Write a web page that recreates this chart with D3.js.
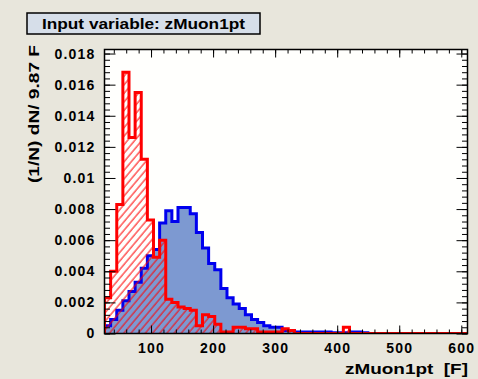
<!DOCTYPE html>
<html>
<head>
<meta charset="utf-8">
<script src="https://cdn.jsdelivr.net/npm/d3@7"></script>
<style>
  html, body { margin: 0; padding: 0; background: #e8e6dc; }
  svg { display: block; }
  text { font-family: "Liberation Sans", Arial, Helvetica, sans-serif; font-weight: bold; }
</style>
</head>
<body>
<svg id="chart" width="478" height="379"></svg>
<script>
// ---- data ----
const titleText = "Input variable: zMuon1pt";
const xTitle = "zMuon1pt  [F]";
const yTitle = "(1/N) dN/ 9.87 F";
const binStart = 25;
const binWidth = 9.87;
const xDomain = [25, 610];
const yDomain = [0, 0.01826];
const xMajorTicks = [100, 200, 300, 400, 500, 600];
const yMajorTicks = [0, 0.002, 0.004, 0.006, 0.008, 0.01, 0.012, 0.014, 0.016, 0.018];
const signalValues = [
  0.0005, 0.0009, 0.0015, 0.0021, 0.0027, 0.0033, 0.0042, 0.0050, 0.0054, 0.0071,
  0.0079, 0.0072, 0.0081, 0.0081, 0.0077, 0.0065, 0.0055, 0.0045, 0.0041, 0.0029,
  0.0023, 0.0019, 0.0016, 0.0012, 0.0009, 0.0007, 0.0005, 0.0004, 0.0004, 0.0002,
  0.0002, 0.0001, 0.0001, 0.0001, 0.0001, 0.0001, 0.0001, 0.00005, 0.00005, 0.00005,
  0.0001, 0.0001, 0.00005, 0, 0, 0, 0, 0, 0, 0,
  0, 0, 0, 0, 0, 0, 0, 0, 0
];
const backgroundValues = [
  0.0023, 0.0040, 0.0083, 0.0168, 0.0126, 0.0155, 0.0112, 0.0073, 0.0049, 0.0060,
  0.0022, 0.0020, 0.0017, 0.0016, 0.0015, 0.0005, 0.0012, 0.0011, 0.0006, 0.0001,
  0.0001, 0.0004, 0.0004, 0.0003, 0.0003, 0.0001, 0.0001, 0.0001, 0.0001, 0.0003,
  0.0002, 0, 0, 0, 0, 0, 0, 0, 0, 0.0004,
  0, 0, 0, 0, 0, 0, 0, 0, 0, 0,
  0, 0, 0, 0, 0, 0, 0, 0, 0
];

// ---- layout ----
const frame = { left: 104.5, right: 467.5, top: 49.5, bottom: 333.5 };
const svg = d3.select("#chart");

svg.append("rect").attr("x", 0).attr("y", 0).attr("width", 478).attr("height", 379).attr("fill", "#e8e6dc");

const x = d3.scaleLinear().domain(xDomain).range([frame.left, frame.right]);
const y = d3.scaleLinear().domain(yDomain).range([frame.bottom, frame.top]);

const defs = svg.append("defs");
defs.append("clipPath").attr("id", "clip").append("rect")
  .attr("x", frame.left).attr("y", frame.top)
  .attr("width", frame.right - frame.left).attr("height", frame.bottom - frame.top);
const pat = defs.append("pattern").attr("id", "hatch")
  .attr("patternUnits", "userSpaceOnUse").attr("width", 5.5).attr("height", 10)
  .attr("patternTransform", "rotate(40)");
pat.append("line").attr("x1", 1).attr("y1", -1).attr("x2", 1).attr("y2", 11)
  .attr("stroke", "#ff0000").attr("stroke-width", 1);

// frame fill
svg.append("rect").attr("x", frame.left).attr("y", frame.top)
  .attr("width", frame.right - frame.left).attr("height", frame.bottom - frame.top)
  .attr("fill", "#fffffd");

function histPath(values) {
  const p = d3.path();
  p.moveTo(x(binStart), y(0));
  values.forEach((v, i) => {
    const x0 = x(binStart + i * binWidth), x1 = x(binStart + (i + 1) * binWidth);
    p.lineTo(x0, y(v));
    p.lineTo(x1, y(v));
  });
  p.lineTo(x(binStart + values.length * binWidth), y(0));
  p.lineTo(frame.right, y(0));
  return p.toString();
}

const plot = svg.append("g").attr("clip-path", "url(#clip)");
// signal
plot.append("path").attr("d", histPath(signalValues) + "Z").attr("fill", "#7d99d1").attr("stroke", "none");
plot.append("path").attr("d", histPath(signalValues)).attr("fill", "none")
  .attr("stroke", "#0000ee").attr("stroke-width", 3).attr("stroke-linejoin", "miter");
// background
plot.append("path").attr("d", histPath(backgroundValues) + "Z").attr("fill", "url(#hatch)").attr("stroke", "none");
plot.append("path").attr("d", histPath(backgroundValues)).attr("fill", "none")
  .attr("stroke", "#ff0000").attr("stroke-width", 3).attr("stroke-linejoin", "miter");

// ---- axes ----
const xMinor = d3.range(40, 601, 20);
const yMinor = d3.range(0, 46).map(i => +(i * 0.0004).toFixed(4)).filter(v => v <= yDomain[1]);
const yFmt = d => d === 0 ? "0" : String(+d.toFixed(3));

function styleAxis(g) {
  g.select(".domain").remove();
  g.selectAll("line").attr("stroke", "#000").attr("stroke-width", 1);
  g.selectAll("text").attr("font-size", 14).attr("fill", "#000").attr("letter-spacing", 1.2)
    .style("font-family", "'Liberation Sans', Arial, sans-serif").style("font-weight", "bold");
}

// bottom
svg.append("g").attr("transform", `translate(0,${frame.bottom})`)
  .call(d3.axisBottom(x).tickValues(xMinor).tickSize(-4).tickFormat("")).call(styleAxis);
svg.append("g").attr("transform", `translate(0,${frame.bottom})`)
  .call(d3.axisBottom(x).tickValues(xMajorTicks).tickSize(-8).tickPadding(9.5).tickFormat(d3.format("d"))).call(styleAxis);
// top
svg.append("g").attr("transform", `translate(0,${frame.top})`)
  .call(d3.axisTop(x).tickValues(xMinor).tickSize(-4).tickFormat("")).call(styleAxis);
svg.append("g").attr("transform", `translate(0,${frame.top})`)
  .call(d3.axisTop(x).tickValues(xMajorTicks).tickSize(-8).tickFormat("")).call(styleAxis);
// left
svg.append("g").attr("transform", `translate(${frame.left},0)`)
  .call(d3.axisLeft(y).tickValues(yMinor).tickSize(-5.5).tickFormat("")).call(styleAxis);
svg.append("g").attr("transform", `translate(${frame.left},0)`)
  .call(d3.axisLeft(y).tickValues(yMajorTicks).tickSize(-11).tickPadding(9).tickFormat(yFmt)).call(styleAxis);
// right
svg.append("g").attr("transform", `translate(${frame.right},0)`)
  .call(d3.axisRight(y).tickValues(yMinor).tickSize(-5.5).tickFormat("")).call(styleAxis);
svg.append("g").attr("transform", `translate(${frame.right},0)`)
  .call(d3.axisRight(y).tickValues(yMajorTicks).tickSize(-11).tickFormat("")).call(styleAxis);

// frame border
svg.append("rect").attr("x", frame.left).attr("y", frame.top)
  .attr("width", frame.right - frame.left).attr("height", frame.bottom - frame.top)
  .attr("fill", "none").attr("stroke", "#000").attr("stroke-width", 1.5);

// ---- titles ----
svg.append("rect").attr("x", 27).attr("y", 13).attr("width", 233).attr("height", 21)
  .attr("fill", "#d6dee9").attr("stroke", "#000").attr("stroke-width", 1.5);
svg.append("text").attr("x", 143.5).attr("y", 28.5).attr("text-anchor", "middle")
  .attr("font-size", 14).attr("textLength", 203).attr("lengthAdjust", "spacingAndGlyphs")
  .text(titleText);

svg.append("text").attr("x", 468).attr("y", 374).attr("text-anchor", "end")
  .attr("font-size", 14).attr("textLength", 123).attr("lengthAdjust", "spacingAndGlyphs")
  .attr("xml:space", "preserve").style("white-space", "pre")
  .text(xTitle);

svg.append("text").attr("transform", "translate(39,45) rotate(-90)").attr("text-anchor", "end")
  .attr("font-size", 15).attr("textLength", 138).attr("lengthAdjust", "spacingAndGlyphs")
  .text(yTitle);
</script>
</body>
</html>
